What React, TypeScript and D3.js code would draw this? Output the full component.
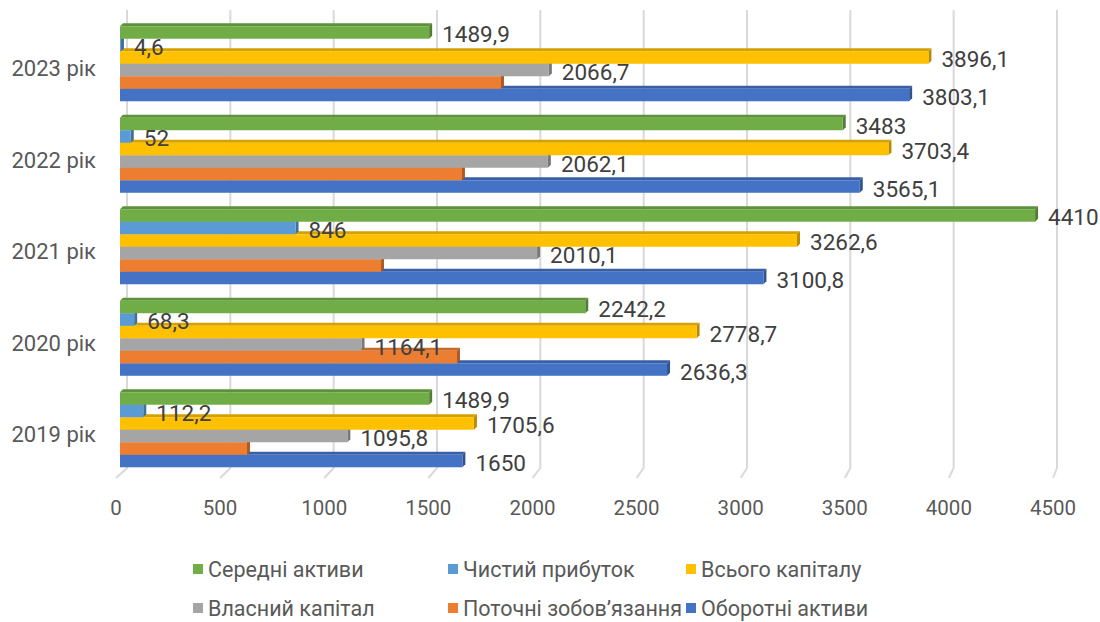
import * as d3 from 'd3';
import React from 'react';

const years = ['2019 рік', '2020 рік', '2021 рік', '2022 рік', '2023 рік'];
const seriesNames = [
  'Середні активи',
  'Чистий прибуток',
  'Всього капіталу',
  'Власний капітал',
  'Поточні зобов’язання',
  'Оборотні активи',
];
const seriesColors = ['#70AD47', '#5B9BD5', '#FFC000', '#A5A5A5', '#ED7D31', '#4472C4'];

const averageAssets = [1489.9, 2242.2, 4410, 3483, 1489.9];
const netProfit = [112.2, 68.3, 846, 52, 4.6];
const totalCapital = [1705.6, 2778.7, 3262.6, 3703.4, 3896.1];
const equity = [1095.8, 1164.1, 2010.1, 2062.1, 2066.7];
const currentLiabilities = [612, 1624, 1258, 1648, 1836];
const currentAssets = [1650, 2636.3, 3100.8, 3565.1, 3803.1];

const seriesValues = [averageAssets, netProfit, totalCapital, equity, currentLiabilities, currentAssets];
const showLabels = [true, true, true, true, false, true];
const xTicks = [0, 500, 1000, 1500, 2000, 2500, 3000, 3500, 4000, 4500];

const W = 1100;
const H = 622;
const DEPTH = 3;
const FONT = 'Roboto, "Noto Sans", sans-serif';

const fmt = (v: number) => String(v).replace('.', ',');

export default function App() {
  const x = d3.scaleLinear().domain([0, 4500]).range([120, 1053.75]);
  const xBack = d3.scaleLinear().domain([0, 4500]).range([127, 1057]);
  const xFront = d3.scaleLinear().domain([0, 4500]).range([116, 1053]);

  const y = d3.scaleBand<string>()
    .domain([...years].reverse())
    .range([18, 475.5])
    .paddingInner(0.18)
    .paddingOuter(0.09);

  const ySub = d3.scaleBand<string>()
    .domain(seriesNames)
    .range([0, y.bandwidth()]);

  const gridBottom = 468;
  const floorBottom = 478;

  const drawOrder = d3.range(seriesNames.length).reverse();

  const legendCols = [193, 448, 686];
  const legendRows = [569, 608];

  return (
    <svg width={W} height={H} style={{ position: 'absolute', left: 0, top: 0, background: '#fff' }}>
      {/* gridlines with floor slant */}
      <g stroke="#d9d9d9" strokeWidth={2} fill="none">
        {xTicks.map(t => (
          <path
            key={t}
            d={`M${xBack(t)},10 L${xBack(t)},${gridBottom} L${xFront(t)},${floorBottom}`}
          />
        ))}
      </g>

      {/* bars */}
      {years.map((yr, yi) => (
        <g key={yr} transform={`translate(0,${y(yr)})`}>
          {drawOrder.map(si => {
            const v = seriesValues[si][yi];
            const x0 = x(0);
            const x1 = x(v);
            const y0 = ySub(seriesNames[si])!;
            const y1 = y0 + ySub.bandwidth();
            const base = seriesColors[si];
            const top = d3.color(base)!.darker(0.5).formatHex();
            const side = d3.color(base)!.darker(0.9).formatHex();
            return (
              <g key={si}>
                <polygon
                  points={`${x0},${y0} ${x0 + DEPTH},${y0 - DEPTH} ${x1 + DEPTH},${y0 - DEPTH} ${x1},${y0}`}
                  fill={top}
                />
                <polygon
                  points={`${x1},${y0} ${x1 + DEPTH},${y0 - DEPTH} ${x1 + DEPTH},${y1 - DEPTH} ${x1},${y1}`}
                  fill={side}
                />
                <rect x={x0} y={y0} width={x1 - x0} height={y1 - y0} fill={base} />
              </g>
            );
          })}
        </g>
      ))}

      {/* value labels */}
      <g fontFamily={FONT} fontSize={22.5} fill="#404040">
        {years.map((yr, yi) =>
          seriesNames.map((s, si) =>
            showLabels[si] ? (
              <text
                key={`${yr}-${si}`}
                x={x(seriesValues[si][yi]) + 13}
                y={y(yr)! + ySub(s)! + ySub.bandwidth() / 2 + 2}
                dominantBaseline="central"
              >
                {fmt(seriesValues[si][yi])}
              </text>
            ) : null
          )
        )}
      </g>

      {/* category labels */}
      <g fontFamily={FONT} fontSize={22} fill="#595959" textAnchor="end">
        {years.map(yr => (
          <text key={yr} x={96} y={y(yr)! + y.bandwidth() / 2 + 5} dominantBaseline="central">
            {yr}
          </text>
        ))}
      </g>

      {/* x tick labels */}
      <g fontFamily={FONT} fontSize={20.5} fill="#595959" textAnchor="middle">
        {xTicks.map(t => (
          <text key={t} x={xFront(t)} y={508} dominantBaseline="central">
            {t}
          </text>
        ))}
      </g>

      {/* legend */}
      <g fontFamily={FONT} fontSize={21.5} fill="#595959">
        {seriesNames.map((s, i) => {
          const lx = legendCols[i % 3];
          const ly = legendRows[Math.floor(i / 3)];
          return (
            <g key={s}>
              <rect x={lx} y={ly - 5} width={10} height={10} fill={seriesColors[i]} />
              <text x={lx + 15} y={ly} dominantBaseline="central">
                {s}
              </text>
            </g>
          );
        })}
      </g>
    </svg>
  );
}
